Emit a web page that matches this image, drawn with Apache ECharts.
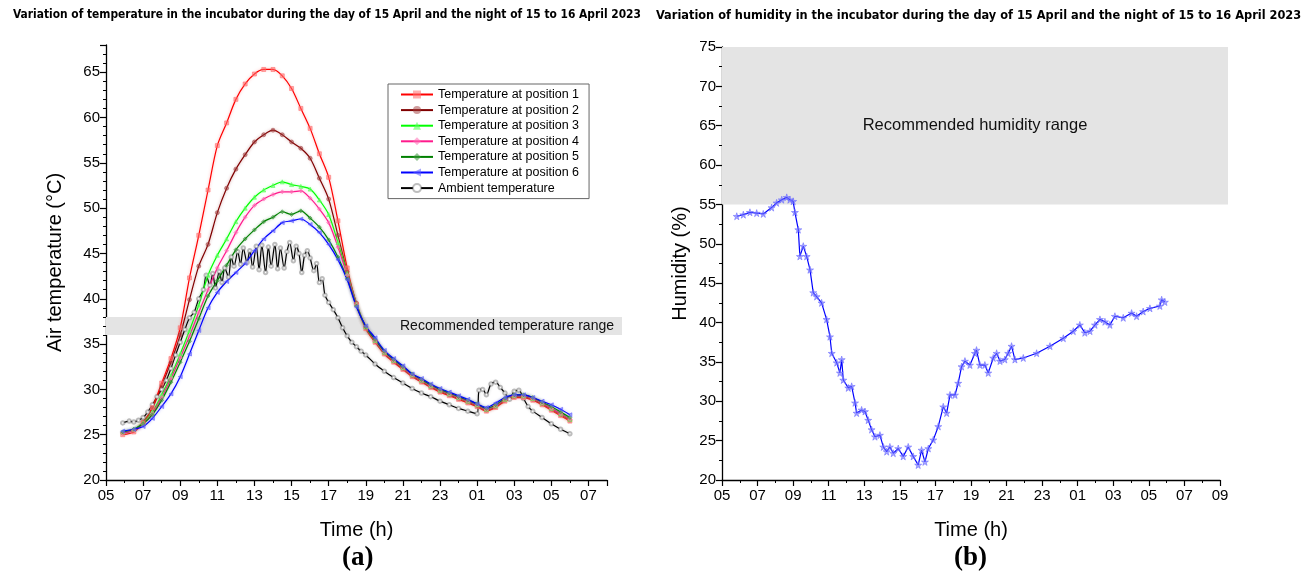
<!DOCTYPE html>
<html>
<head>
<meta charset="utf-8">
<script src="https://cdn.jsdelivr.net/npm/echarts@6/dist/echarts.min.js"></script>
<style>
html, body { margin: 0; padding: 0; background: #fff; }
#chart { width: 1308px; height: 576px; }
</style>
</head>
<body>
<div id="chart"></div>
<script>
// time in hours since midnight of 15 April (24 = 00h on 16 April)
const timeT = [5.9, 6.5, 7, 7.5, 8, 8.5, 9, 9.5, 10, 10.5, 11, 11.5, 12, 12.5, 13, 13.5, 14, 14.5, 15, 15.5,
    16, 16.5, 17, 17.5, 18, 18.5, 19, 19.5, 20, 20.5, 21, 21.5, 22, 22.5, 23, 23.5, 24, 24.5, 25, 25.5,
    26, 26.5, 27, 27.5, 28, 28.5, 29, 29.5, 30];

const tempPos1 = [25.0, 25.3, 26.3, 28.0, 30.7, 33.4, 36.8, 42.3, 47.0, 52.0, 56.9, 59.4, 62.0, 63.7, 64.8, 65.3,
    65.3, 64.6, 63.2, 61.0, 58.8, 56.0, 53.4, 48.6, 43.4, 39.4, 36.7, 35.2, 33.9, 33.0, 32.2, 31.4, 30.8, 30.2,
    29.7, 29.3, 28.9, 28.5, 28.1, 27.6, 28.0, 28.7, 29.1, 29.1, 28.8, 28.3, 27.7, 27.1, 26.5];
const tempPos2 = [25.2, 25.5, 26.4, 27.9, 30.4, 33.0, 36.0, 39.9, 43.6, 46.0, 49.5, 52.2, 54.3, 55.9, 57.3, 58.1,
    58.6, 58.1, 57.3, 56.6, 55.5, 53.3, 51.0, 47.0, 43.0, 39.5, 36.8, 35.3, 34.0, 33.1, 32.3, 31.5, 30.9, 30.3,
    29.8, 29.4, 29.0, 28.6, 28.2, 27.7, 28.1, 28.8, 29.2, 29.2, 28.9, 28.4, 27.8, 27.2, 26.6];
const tempPos3 = [25.3, 25.6, 26.3, 27.5, 29.4, 31.5, 33.9, 36.5, 39.3, 42.6, 44.8, 46.6, 48.5, 50.0, 51.2, 52.0,
    52.5, 52.9, 52.6, 52.4, 52.1, 50.9, 49.3, 46.2, 42.8, 39.4, 36.9, 35.4, 34.1, 33.2, 32.4, 31.6, 31.0, 30.4,
    29.9, 29.5, 29.1, 28.7, 28.3, 27.8, 28.2, 28.9, 29.3, 29.3, 29.0, 28.5, 27.9, 27.3, 26.7];
const tempPos4 = [25.2, 25.5, 26.2, 27.3, 29.1, 31.2, 33.5, 35.9, 38.5, 41.0, 43.4, 45.3, 47.3, 49.0, 50.3, 51.0,
    51.5, 51.8, 51.8, 51.9, 51.1, 49.9, 48.4, 45.7, 42.6, 39.3, 36.9, 35.4, 34.1, 33.2, 32.4, 31.6, 31.0, 30.4,
    29.9, 29.5, 29.1, 28.7, 28.3, 27.8, 28.2, 28.9, 29.3, 29.3, 29.0, 28.5, 27.9, 27.3, 26.7];
const tempPos5 = [25.3, 25.6, 26.2, 27.2, 28.8, 30.8, 33.0, 35.3, 37.8, 40.3, 42.0, 43.7, 45.4, 46.6, 47.6, 48.5,
    49.0, 49.6, 49.3, 49.7, 48.9, 47.9, 46.5, 44.6, 42.2, 39.2, 36.9, 35.5, 34.2, 33.3, 32.5, 31.7, 31.1, 30.5,
    30.0, 29.6, 29.2, 28.8, 28.4, 27.9, 28.3, 29.0, 29.4, 29.4, 29.1, 28.6, 28.1, 27.5, 26.9];
const tempPos6 = [25.4, 25.6, 25.9, 26.8, 28.1, 29.5, 31.4, 33.9, 36.5, 39.0, 40.7, 41.9, 42.9, 43.9, 45.3, 46.6,
    47.5, 48.4, 48.6, 48.8, 48.2, 47.3, 46.0, 44.3, 42.1, 39.1, 37.0, 35.7, 34.3, 33.4, 32.6, 31.7, 31.2, 30.6,
    30.1, 29.7, 29.3, 28.9, 28.4, 28.0, 28.5, 29.1, 29.4, 29.4, 29.1, 28.7, 28.3, 27.8, 27.2];

const ambTime = [5.9, 6.25, 6.5, 6.75, 7, 7.25, 7.5, 7.75, 8, 8.25, 8.5, 8.75, 9, 9.25, 9.5, 9.75, 10, 10.25,
    10.4, 10.6, 10.75, 10.9, 11.1, 11.25, 11.4, 11.6, 11.75, 11.9, 12.1, 12.25, 12.4, 12.6, 12.75, 12.9, 13.1,
    13.25, 13.4, 13.6, 13.75, 13.9, 14.1, 14.25, 14.4, 14.6, 14.75, 14.9, 15.1, 15.25, 15.4, 15.55, 15.7, 15.85,
    16, 16.2, 16.35, 16.5, 16.65, 16.8, 17, 17.25, 17.5, 17.75, 18, 18.25, 18.5, 18.75, 19, 19.5, 20, 20.5, 21,
    21.5, 22, 22.5, 23, 23.5, 24, 24.5, 25, 25.1, 25.3, 25.5, 25.75, 26, 26.25, 26.5, 26.75, 27, 27.25, 27.5,
    27.75, 28, 28.5, 29, 29.5, 30];
const ambTemp = [26.3, 26.5, 26.4, 26.6, 26.9, 27.5, 28.3, 29.2, 30.0, 31.0, 32.3, 33.8, 35.2, 36.6, 37.9, 38.5,
    40.0, 41.0, 42.6, 41.5, 42.8, 41.2, 43.0, 41.8, 43.4, 42.4, 44.6, 43.6, 45.2, 43.8, 45.6, 44.0, 45.3, 43.5,
    45.8, 43.2, 45.9, 42.9, 45.7, 43.6, 46.0, 43.3, 45.6, 43.4, 45.2, 46.2, 44.2, 45.8, 45.0, 42.9, 44.8, 45.3,
    44.5, 43.1, 43.9, 41.8, 42.2, 40.4, 39.6, 38.8, 37.9, 36.8, 35.9, 35.2, 34.7, 34.2, 33.8, 32.8, 32.0, 31.3,
    30.7, 30.1, 29.6, 29.2, 28.7, 28.3, 27.9, 27.6, 27.3, 29.9, 30.0, 29.4, 30.6, 30.8, 30.2, 29.6, 28.9, 29.8,
    29.9, 29.0, 28.1, 27.6, 26.9, 26.2, 25.6, 25.1];

const humTime = [5.83, 6.2, 6.57, 6.95, 7.32, 7.79, 8.07, 8.36, 8.64, 8.82, 9.0, 9.1, 9.29, 9.38, 9.57, 9.76,
    9.95, 10.13, 10.32, 10.6, 10.88, 11.07, 11.17, 11.45, 11.63, 11.73, 11.82, 12.1, 12.29, 12.48, 12.57, 12.85,
    13.04, 13.22, 13.41, 13.6, 13.88, 14.07, 14.26, 14.44, 14.63, 14.91, 15.19, 15.47, 15.75, 16.03, 16.22,
    16.41, 16.6, 16.88, 17.16, 17.44, 17.63, 17.82, 18.1, 18.28, 18.47, 18.66, 18.94, 19.22, 19.31, 19.5, 19.78,
    19.97, 20.25, 20.44, 20.63, 20.9, 21.09, 21.28, 21.47, 21.94, 22.69, 23.44, 24.19, 24.75, 25.12, 25.4,
    25.69, 25.97, 26.25, 26.53, 26.81, 27.09, 27.56, 28.03, 28.31, 28.68, 29.06, 29.62, 29.72, 29.9];
const humValue = [53.5, 53.7, 54.0, 53.9, 53.8, 54.6, 55.2, 55.6, 55.9, 55.6, 55.4, 54.0, 51.8, 48.4, 49.7, 48.4,
    46.7, 43.8, 43.3, 42.5, 40.4, 38.2, 36.1, 34.9, 33.6, 35.3, 32.7, 31.7, 31.9, 29.8, 28.5, 28.9,
    28.7, 27.6, 26.4, 25.5, 25.7, 24.2, 23.6, 24.2, 23.4, 24.0, 23.0, 24.2, 23.0, 21.9, 23.8,
    22.3, 24.0, 25.1, 26.8, 29.3, 28.5, 30.8, 30.8, 32.3, 34.4, 35.1, 34.6, 36.1, 36.5, 34.6, 34.6,
    33.6, 35.5, 36.1, 35.1, 35.3, 36.1, 37.0, 35.3, 35.5, 36.1, 37.0, 38.0, 38.9, 39.7, 38.7,
    38.9, 39.7, 40.4, 40.1, 39.7, 40.8, 40.6, 41.2, 40.8, 41.4, 41.8, 42.1, 42.9, 42.6];

const tempRange = [36, 38];
const humRange = [55, 75];

const seriesNames = ['Temperature at position 1', 'Temperature at position 2', 'Temperature at position 3',
    'Temperature at position 4', 'Temperature at position 5', 'Temperature at position 6', 'Ambient temperature'];

const title1 = 'Variation of temperature in the incubator during the day of 15 April and the night of 15 to 16 April 2023';
const title2 = 'Variation of humidity in the incubator during the day of 15 April and the night of 15 to 16 April 2023';

const FONT = "'Liberation Sans', Arial, sans-serif";
const TITLE_FONT = "'Liberation Sans Narrow', 'DejaVu Sans Condensed', 'Liberation Sans', sans-serif";
const SERIF = '"Liberation Serif", "Times New Roman", serif';

function pairs(xs, ys) {
    return xs.map((x, i) => [x, ys[i]]);
}

// pick a font size so the title spans the same width as in the figure
function fitSize(text, width) {
    const ctx = document.createElement('canvas').getContext('2d');
    ctx.font = 'bold 13px ' + TITLE_FONT;
    return 13 * width / ctx.measureText(text).width;
}

function hourLabel(v) {
    if ((v - 5) % 2 !== 0) return '';
    return String(v % 24).padStart(2, '0');
}

function timeAxis(gridIndex, max) {
    return {
        type: 'value',
        gridIndex: gridIndex,
        min: 5,
        max: max,
        interval: 2,
        name: 'Time (h)',
        nameLocation: 'middle',
        nameGap: 40,
        nameTextStyle: { fontFamily: FONT, fontSize: 20, color: '#000' },
        axisLine: { show: true, onZero: false, lineStyle: { color: '#000', width: 1.3 } },
        axisTick: { show: true, length: 6, lineStyle: { color: '#000', width: 1.2 } },
        minorTick: { show: true, splitNumber: 2, length: 3, lineStyle: { color: '#000', width: 1 } },
        axisLabel: {
            fontFamily: FONT, fontSize: 15, color: '#000', margin: 8,
            formatter: hourLabel
        },
        splitLine: { show: false }
    };
}

function valueAxis(gridIndex, min, max, name, gap, minorSplit) {
    return {
        type: 'value',
        gridIndex: gridIndex,
        min: min,
        max: max,
        interval: 5,
        name: name,
        nameLocation: 'middle',
        nameGap: gap,
        nameTextStyle: { fontFamily: FONT, fontSize: 20, color: '#000' },
        axisLine: { show: true, lineStyle: { color: '#000', width: 1.3 } },
        axisTick: { show: true, length: 6, lineStyle: { color: '#000', width: 1.2 } },
        minorTick: { show: true, splitNumber: minorSplit, length: 3, lineStyle: { color: '#000', width: 1 } },
        axisLabel: {
            fontFamily: FONT, fontSize: 15, color: '#000', margin: 6,
            formatter: v => (v % 5 === 0 ? String(v) : '')
        },
        splitLine: { show: false }
    };
}

function hiddenAxis(gridIndex, min, max) {
    return { type: 'value', gridIndex: gridIndex, min: min, max: max, show: false };
}

function tempSeries(name, xs, ys, color, marker, symbol, size, rotate) {
    return {
        name: name,
        type: 'line',
        xAxisIndex: 0,
        yAxisIndex: 0,
        data: pairs(xs, ys),
        smooth: 0.3,
        symbol: symbol,
        symbolSize: size,
        symbolRotate: rotate || 0,
        z: 3,
        lineStyle: { color: color, width: 1.2, shadowColor: marker, shadowBlur: 3 },
        itemStyle: { color: marker, borderColor: marker },
        emphasis: { disabled: true }
    };
}

const chart = echarts.init(document.getElementById('chart'));

const option = {
    animation: false,
    backgroundColor: '#fff',
    title: [
        {
            text: title1, left: 8, top: 4,
            textStyle: { fontFamily: TITLE_FONT, fontWeight: 'bold', fontSize: fitSize(title1, 629), color: '#000' }
        },
        {
            text: title2, left: 651, top: 4,
            textStyle: { fontFamily: TITLE_FONT, fontWeight: 'bold', fontSize: fitSize(title2, 646), color: '#000' }
        }
    ],
    legend: {
        data: seriesNames,
        orient: 'vertical',
        left: 388,
        top: 84,
        padding: [4, 10, 4, 12],
        itemWidth: 32,
        itemHeight: 10,
        itemGap: 2.6,
        borderColor: '#666',
        borderWidth: 1,
        textStyle: { fontFamily: FONT, fontSize: 12.5, color: '#000' }
    },
    grid: [
        { left: 106, top: 45, width: 501, height: 435 },
        { left: 722, top: 47, width: 498, height: 433 },
        { left: 106, top: 45, width: 516, height: 435 },
        { left: 722, top: 47, width: 506, height: 433 }
    ],
    xAxis: [
        timeAxis(0, 32),
        timeAxis(1, 33),
        hiddenAxis(2, 0, 1),
        hiddenAxis(3, 0, 1)
    ],
    yAxis: [
        valueAxis(0, 20, 68, 'Air temperature (°C)', 41, 5),
        valueAxis(1, 20, 75, 'Humidity (%)', 32, 2),
        hiddenAxis(2, 20, 68),
        hiddenAxis(3, 20, 75)
    ],
    graphic: [
        {
            type: 'text', left: 342, top: 545,
            style: { text: '(a)', fill: '#000', font: 'bold 27px ' + SERIF }
        },
        {
            type: 'text', left: 954, top: 545,
            style: { text: '(b)', fill: '#000', font: 'bold 27px ' + SERIF }
        }
    ],
    series: [
        {
            name: 'tempBand', type: 'line', xAxisIndex: 2, yAxisIndex: 2, data: [], z: 1,
            markArea: {
                silent: true,
                itemStyle: { color: '#e4e4e4' },
                label: {
                    show: true, position: 'insideRight', distance: 8,
                    fontFamily: FONT, fontSize: 14, color: '#111'
                },
                data: [[
                    { name: 'Recommended temperature range', xAxis: 0, yAxis: tempRange[0] },
                    { xAxis: 1, yAxis: tempRange[1] }
                ]]
            }
        },
        {
            name: 'humBand', type: 'line', xAxisIndex: 3, yAxisIndex: 3, data: [], z: 1,
            markArea: {
                silent: true,
                itemStyle: { color: '#e4e4e4' },
                label: {
                    show: true, position: 'inside',
                    fontFamily: FONT, fontSize: 16.5, color: '#111'
                },
                data: [[
                    { name: 'Recommended humidity range', xAxis: 0, yAxis: humRange[0] },
                    { xAxis: 1, yAxis: humRange[1] }
                ]]
            }
        },
        tempSeries(seriesNames[6], ambTime, ambTemp, '#000000', 'rgba(110,110,110,0.45)', 'emptyCircle', 3.5),
        tempSeries(seriesNames[1], timeT, tempPos2, '#800000', 'rgba(160,60,60,0.5)', 'circle', 4),
        tempSeries(seriesNames[0], timeT, tempPos1, '#ff0000', 'rgba(255,110,110,0.55)', 'rect', 4),
        tempSeries(seriesNames[2], timeT, tempPos3, '#00ff00', 'rgba(90,255,90,0.6)', 'triangle', 4),
        tempSeries(seriesNames[3], timeT, tempPos4, '#ff1a8c', 'rgba(255,110,180,0.55)', 'diamond', 4),
        tempSeries(seriesNames[4], timeT, tempPos5, '#008000', 'rgba(60,150,60,0.55)', 'diamond', 4),
        tempSeries(seriesNames[5], timeT, tempPos6, '#0000ff', 'rgba(90,90,255,0.55)', 'triangle', 4, 90),
        {
            name: 'Humidity',
            type: 'line',
            xAxisIndex: 1,
            yAxisIndex: 1,
            data: pairs(humTime, humValue),
            symbol: 'path://M50,0 L61,35 L98,35 L68,57 L79,91 L50,70 L21,91 L32,57 L2,35 L39,35 Z',
            symbolSize: 7,
            z: 3,
            lineStyle: { color: '#0000ff', width: 1.2 },
            itemStyle: { color: 'rgba(110,110,255,0.6)', borderColor: 'rgba(110,110,255,0.6)' },
            emphasis: { disabled: true }
        }
    ]
};

chart.setOption(option);
</script>
</body>
</html>
